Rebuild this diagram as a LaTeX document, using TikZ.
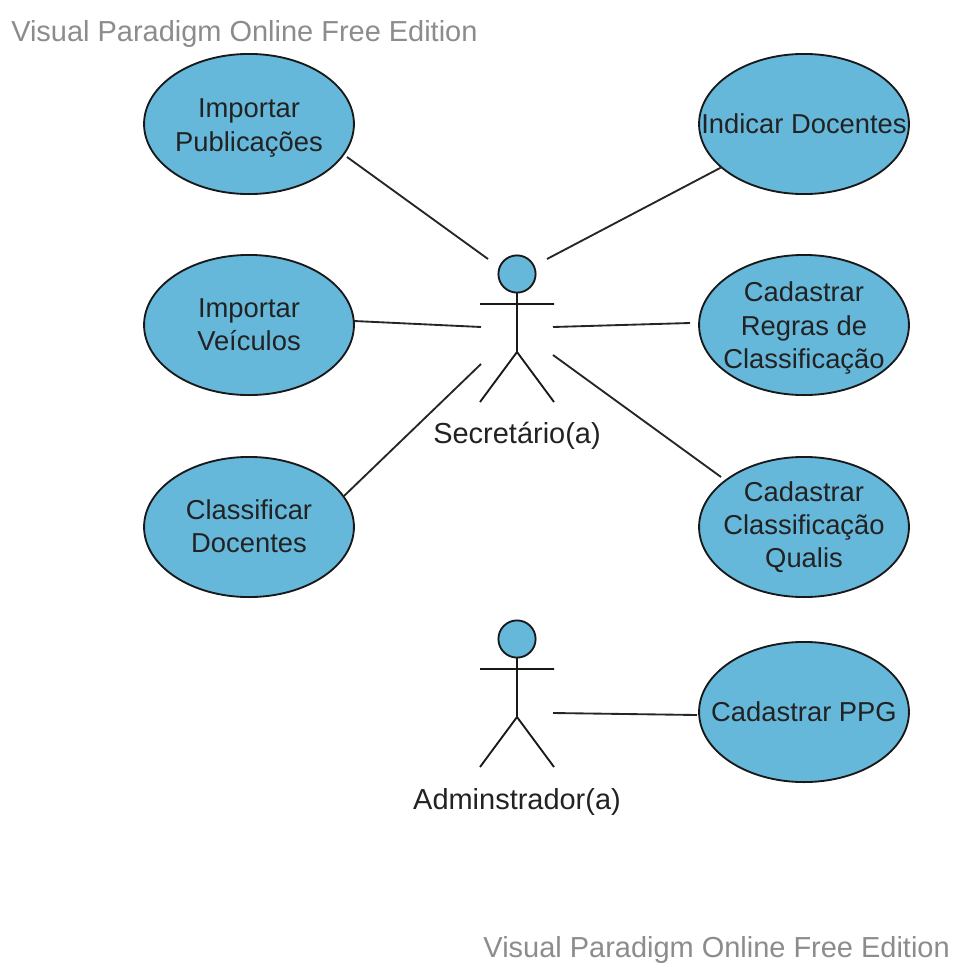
\documentclass[tikz,border=0pt]{standalone}
\usepackage{fontspec}
\setmainfont{Liberation Sans}
\usetikzlibrary{shapes.geometric}
\definecolor{ucfill}{HTML}{66B8DB}
\definecolor{wm}{HTML}{8C8C8C}
\definecolor{txt}{HTML}{222222}
\tikzset{
 x=0.0264583cm,y=-0.0264583cm,
 ucshape/.style={draw=black!90,fill=ucfill,line width=1.4pt},
 lab/.style={text=txt,align=center,font=\fontsize{20.6}{25}\selectfont,inner sep=0pt},
 actlab/.style={text=txt,align=center,font=\fontsize{21.8}{25}\selectfont,inner sep=0pt},
 conn/.style={draw=black!85,line width=1.4pt},
 wmark/.style={text=wm,font=\fontsize{21.8}{26}\selectfont,inner sep=0pt},
 limb/.style={draw=black!90,line width=1.4pt},
}
\newcommand{\ucase}[5]{%
 \node[ellipse,ucshape,minimum width=158pt,minimum height=105.5pt,inner sep=0pt] (#1) at (#2,#3) {};
 \node[lab] (#1t) at (#2,#5) {#4};}
\newcommand{\actor}[3]{%
 \node[circle,ucshape,minimum size=28pt,inner sep=0pt] (#1h) at (#2,#3) {};
 \coordinate (#1n) at (#2,#3+19);
 \coordinate (#1c) at (#2,#3+78);
 \coordinate (#1l) at (#2-37,#3+30);
 \coordinate (#1r) at (#2+37,#3+30);
 \coordinate (#1fl) at (#2-37,#3+128);
 \coordinate (#1fr) at (#2+37,#3+128);
 \draw[limb] (#1n) -- (#1c) (#1l) -- (#1r) (#1fl) -- (#1c) -- (#1fr);}
\begin{document}
\begin{tikzpicture}
\useasboundingbox (0,0) rectangle (953,963);
\node[wmark,anchor=west] (w1) at (11,34) {Visual Paradigm Online Free Edition};
\node[wmark,anchor=east] (w2) at (950,950) {Visual Paradigm Online Free Edition};
\ucase{a}{249}{124}{Importar\\Publicações}{128}
\ucase{b}{249}{325}{Importar\\Veículos}{325}
\ucase{c}{249}{527}{Classificar\\Docentes}{526}
\ucase{d}{804}{124}{Indicar Docentes}{124}
\ucase{e}{804}{325}{Cadastrar\\Regras de\\Classificação}{328}
\ucase{f}{804}{527}{Cadastrar\\Classificação\\Qualis}{527}
\ucase{g}{804}{712}{Cadastrar PPG}{712}
\actor{s}{517}{274}
\actor{p}{517}{639}
\node[actlab] (st) at (517,436) {Secretário(a)};
\node[actlab] (pt) at (517,802) {Adminstrador(a)};
\coordinate (s1) at (488,259);
\coordinate (s2) at (481,327);
\coordinate (s3) at (481,364);
\coordinate (s4) at (547,259);
\coordinate (s5) at (553,327);
\coordinate (s6) at (553,355);
\coordinate (p1) at (553,713);
\coordinate (a1) at (347,157);
\coordinate (b1) at (354,321);
\coordinate (c1) at (344,496);
\coordinate (d1) at (722,167);
\coordinate (e1) at (690,323);
\coordinate (f1) at (721,477);
\coordinate (g1) at (697,715);
\draw[conn] (a1) -- (s1);
\draw[conn] (b1) -- (s2);
\draw[conn] (c1) -- (s3);
\draw[conn] (d1) -- (s4);
\draw[conn] (e1) -- (s5);
\draw[conn] (f1) -- (s6);
\draw[conn] (g1) -- (p1);
\end{tikzpicture}
\end{document}
